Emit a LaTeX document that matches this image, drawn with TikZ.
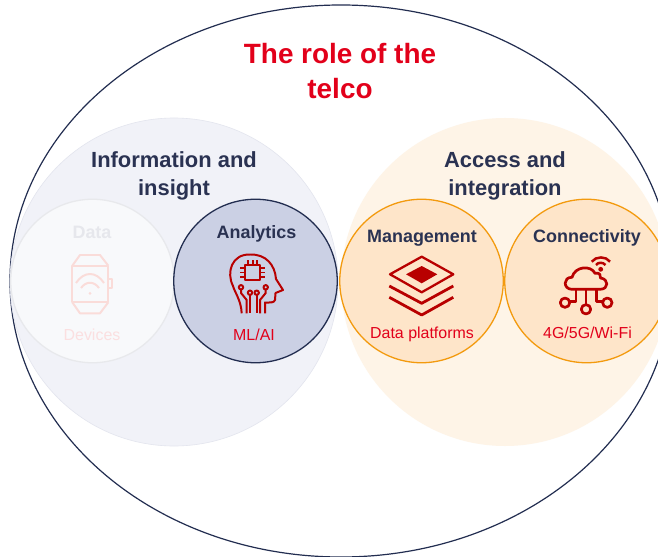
\documentclass[tikz,border=0pt]{standalone}
\usepackage{fontspec}
\setmainfont{Liberation Sans}
\usepackage{tikz}
\usetikzlibrary{shapes,positioning}
\definecolor{navy}{HTML}{2A3252}
\definecolor{navyline}{HTML}{222D50}
\definecolor{telred}{HTML}{E2001A}
\definecolor{iconred}{HTML}{B80000}
\definecolor{amberline}{HTML}{F39A0E}
\definecolor{insightfill}{HTML}{F1F2F8}
\definecolor{insightline}{HTML}{E3E5EE}
\definecolor{datafill}{HTML}{F8F9FB}
\definecolor{dataline}{HTML}{E8E9EC}
\definecolor{analyticsfill}{HTML}{CBD0E4}
\definecolor{accessfill}{HTML}{FEF4E7}
\definecolor{managefill}{HTML}{FEE5C9}
\definecolor{fadetext}{HTML}{E6E7EC}
\definecolor{fadered}{HTML}{FBDFE0}
\definecolor{fadeicon}{HTML}{FADCD9}

\begin{document}
\begin{tikzpicture}[x=1bp,y=-1bp]
  \tikzset{bigcircle/.style = {shape=circle, inner sep=0pt, outer sep=0pt, minimum size=328bp, line width=0.6pt},
           smallcircle/.style = {shape=circle, inner sep=0pt, outer sep=0pt, minimum size=163.5bp, line width=1.3pt},
           headlabel/.style = {anchor=base, text=#1, font=\bfseries\fontsize{18}{22}\selectfont},
           sublabel/.style = {anchor=base, text=#1, font=\fontsize{16}{19}\selectfont},
           grouplabel/.style = {align=center, text=navy, font=\bfseries\fontsize{22}{28}\selectfont},
           iconline/.style = {draw=#1, line width=2pt, line join=round, fill=none}}
  \path[use as bounding box,clip] (0,0) rectangle (658,557);
  \fill[white] (0,0) rectangle (658,557);
  %%% OUTER ELLIPSE %%%
  \node[shape=ellipse, draw=navyline, line width=1.2pt, inner sep=0pt, minimum width=662bp, minimum height=552bp] (telco) at (341,281) {};
  \node[anchor=center, align=center, text=telred, font=\bfseries\fontsize{28}{36}\selectfont] (title) at (340,71) {The role of the\\telco};
  %%% LEFT GROUP %%%
  \node[bigcircle, fill=insightfill, draw=insightline] (insight) at (174,282) {};
  \node[grouplabel] (insighttext) at (174,176) {Information and\\insight};
  \node[smallcircle, fill=datafill, draw=dataline] (data) at (92.5,281) {};
  \node[smallcircle, right=-0.5bp of data, fill=analyticsfill, draw=navyline] (analytics) {};
  \node[headlabel=fadetext] (datatext) at (92,239) {Data};
  \node[sublabel=fadered] (devices) at (92,340) {Devices};
  \node[headlabel=navy] (analyticstext) at (256.5,239) {Analytics};
  \node[sublabel=telred] (mlai) at (254,340) {ML/AI};
  %%% RIGHT GROUP %%%
  \node[bigcircle, fill=accessfill, draw=none] (access) at (505,282) {};
  \node[grouplabel] (accesstext) at (505,176) {Access and\\integration};
  \node[smallcircle, fill=managefill, draw=amberline] (management) at (421.5,281) {};
  \node[smallcircle, right=1.5bp of management, fill=managefill, draw=amberline] (connectivity) {};
  \node[headlabel=navy] (managementtext) at (422,243) {Management};
  \node[sublabel=telred] (platforms) at (422,338) {Data platforms};
  \node[headlabel=navy] (connectivitytext) at (587,243) {Connectivity};
  \node[sublabel=telred] (wifi) at (587.5,338) {4G/5G/Wi-Fi};
  %%% WATCH %%%
  \begin{scope}[iconline=fadeicon]
    \draw (72.3,265.7) rectangle (108.3,302.3);
    \draw (72.3,265.7) -- (80,255) -- (100,255) -- (108.3,265.7);
    \draw (72.3,302.3) -- (80,313.3) -- (100,313.3) -- (108.3,302.3);
    \draw (108.3,279.3) rectangle (112.3,287.7);
    \draw (76,283) .. controls (84,271) and (96,271) .. (104,283);
    \draw (81,288) .. controls (86,281) and (94,281) .. (99,288);
    \fill[fadeicon] (90,293.3) circle (1.5);
  \end{scope}
  %%% HEAD %%%
  \begin{scope}[iconline=iconred]
    \draw (241.7,313.3) .. controls (241,300) and (235,293) .. (233,286)
          .. controls (226,272) and (232,254) .. (250,254.5)
          .. controls (266,254) and (275,265) .. (276,279)
          -- (283,290) -- (275.5,293) -- (275,300)
          .. controls (274,303) and (270,302.5) .. (265,302.5) -- (265,313.3);
    \draw (245,265) rectangle (260,280);
    \foreach \p in {248,252.5,257}{
      \draw (\p,260) -- (\p,265);
      \draw (240,\p+20) -- (245,\p+20);
      \draw (260,\p+20) -- (265,\p+20);
    }
    \draw (241,287.3) circle (2.2);
    \draw (250,292.7) circle (2.2);
    \draw (256.7,292.7) circle (2.2);
    \draw (265.7,287.3) circle (2.2);
    \draw (241,289.5) -- (241,293) -- (246.7,300) -- (246.7,313.3);
    \draw (250,295) -- (250,313.3);
    \draw (256.7,295) -- (256.7,313.3);
    \draw (265.7,289.5) -- (265.7,293) -- (260,300) -- (260,313.3);
  \end{scope}
  %%% LAYERS %%%
  \begin{scope}[iconline=iconred]
    \draw[line width=2.3pt] (390,274.3) -- (421.7,256.7) -- (453.3,274.3) -- (421.7,292.3) -- cycle;
    \fill[iconred] (406,274.3) -- (421.7,266) -- (437.3,274.3) -- (421.7,283.3) -- cycle;
    \draw[line width=2.8pt] (389.3,286) -- (421.7,303.3) -- (453.3,286);
    \draw[line width=2.8pt] (389.3,297.3) -- (421.7,315) -- (453.3,297.3);
  \end{scope}
  %%% CLOUD %%%
  \begin{scope}[iconline=iconred]
    \draw[line width=2.7pt] (571.7,289.3) .. controls (563,289) and (563,277) .. (572,277.3)
          .. controls (575,266) and (591,265) .. (595,273.3)
          .. controls (600,272) and (601,276) .. (600.5,278)
          .. controls (609,279) and (609,289.3) .. (600,289.3) -- cycle;
    \fill[iconred] (600.7,269.3) circle (2.4);
    \draw[line width=2.5pt] (596,265) .. controls (598,262) and (603,262) .. (605.5,265);
    \draw[line width=2.5pt] (591.7,261.7) .. controls (596,256) and (606,256) .. (610,261.7);
    \draw[line width=2.7pt] (586,289.3) -- (586,304.5);
    \draw[line width=2.7pt] (586,309.3) circle (4.7);
    \draw[line width=2.7pt] (576,289.3) -- (576,301.7) -- (570,301.7);
    \draw[line width=2.7pt] (565,302.7) circle (4.7);
    \draw[line width=2.7pt] (596.7,289.3) -- (596.7,301.7) -- (602.5,301.7);
    \draw[line width=2.7pt] (607.3,302.7) circle (4.7);
  \end{scope}
\end{tikzpicture}
\end{document}
